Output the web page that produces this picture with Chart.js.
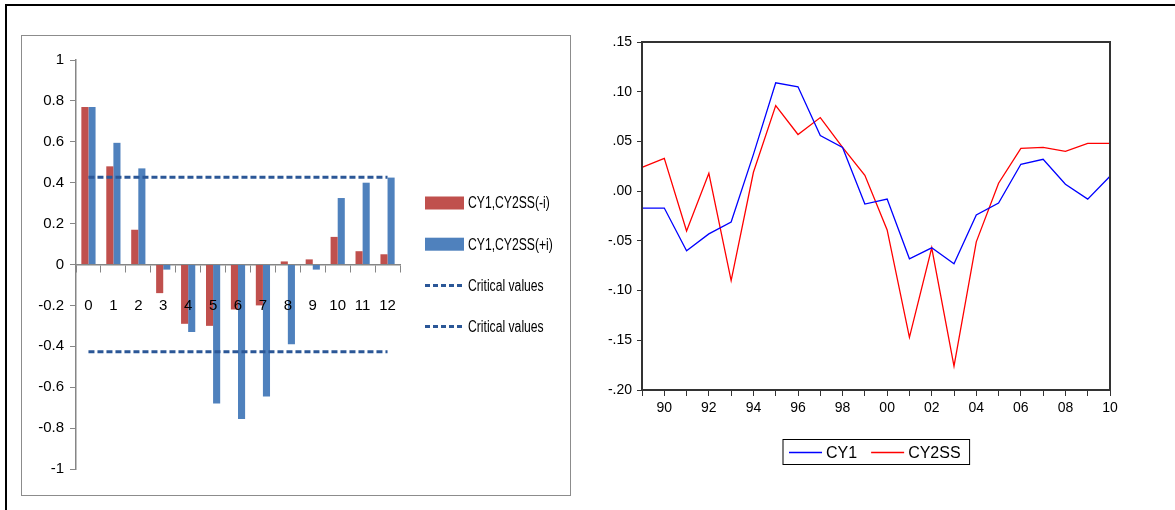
<!DOCTYPE html>
<html>
<head>
<meta charset="utf-8">
<script src="https://cdn.jsdelivr.net/npm/chart.js@4.4.1/dist/chart.umd.min.js"></script>
<style>
  html, body { margin: 0; padding: 0; background: #fff; }
  body { position: relative; width: 1175px; height: 510px; overflow: hidden; }
  .frame { position: absolute; left: 5px; top: 4px; width: 1300px; height: 700px;
           border-left: 2px solid #000; border-top: 2px solid #000; }
  .excel-box { position: absolute; left: 21px; top: 35px; width: 548px; height: 459px;
               border: 1px solid #8c8c8c; background: #fff; }
  .excel-box canvas { position: absolute; left: 0; top: 0; }
  #lineChart { position: absolute; left: 580px; top: 15px; }
</style>
</head>
<body>
<div class="frame"></div>
<div class="excel-box"><canvas id="ccfChart" width="548" height="459"></canvas></div>
<canvas id="lineChart" width="590" height="465"></canvas>

<script>
// cross-correlogram (left)
const lags = ["0", "1", "2", "3", "4", "5", "6", "7", "8", "9", "10", "11", "12"];
const corrMinus = [0.77, 0.48, 0.17, -0.14, -0.29, -0.30, -0.22, -0.20, 0.015, 0.025, 0.135, 0.065, 0.05];
const corrPlus = [0.77, 0.595, 0.47, -0.025, -0.33, -0.68, -0.755, -0.645, -0.39, -0.025, 0.325, 0.40, 0.425];
const criticalUpper = [0.427, 0.427, 0.427, 0.427, 0.427, 0.427, 0.427, 0.427, 0.427, 0.427, 0.427, 0.427, 0.427];
const criticalLower = [-0.427, -0.427, -0.427, -0.427, -0.427, -0.427, -0.427, -0.427, -0.427, -0.427, -0.427, -0.427, -0.427];
const ccfTicks = [-1, -0.8, -0.6, -0.4, -0.2, 0, 0.2, 0.4, 0.6, 0.8, 1];
const ccfTickLabels = ["-1", "-0.8", "-0.6", "-0.4", "-0.2", "0", "0.2", "0.4", "0.6", "0.8", "1"];

// cycles (right)
const years = [1989, 1990, 1991, 1992, 1993, 1994, 1995, 1996, 1997, 1998, 1999,
               2000, 2001, 2002, 2003, 2004, 2005, 2006, 2007, 2008, 2009, 2010];
const cy1 = [-0.017, -0.017, -0.060, -0.043, -0.031, 0.037, 0.109, 0.105, 0.056, 0.044, -0.013,
             -0.008, -0.068, -0.057, -0.073, -0.024, -0.012, 0.027, 0.032, 0.007, -0.008, 0.015];
const cy2ss = [0.024, 0.033, -0.040, 0.018, -0.090, 0.019, 0.086, 0.057, 0.074, 0.044, 0.016,
               -0.039, -0.147, -0.057, -0.176, -0.051, 0.008, 0.043, 0.044, 0.040, 0.048, 0.048];
const cycleTicks = [-0.20, -0.15, -0.10, -0.05, 0, 0.05, 0.10, 0.15];
const cycleTickLabels = ["-.20", "-.15", "-.10", "-.05", ".00", ".05", ".10", ".15"];

const sans = "'Liberation Sans', Arial, sans-serif";
const axisGray = "#868686";
const critColor = "#2B5797";

// excel-ish legend on the right side of the left chart
// (text squeezed a bit, the original uses a narrow font)
const excelLegend = {
  id: "excelLegend",
  afterDraw(chart) {
    const ctx = chart.ctx;
    const x0 = chart.chartArea.right + 25;
    ctx.save();
    ctx.font = "16px " + sans;
    ctx.textBaseline = "middle";
    chart.data.datasets.forEach((ds, i) => {
      const y = 167 + i * 41.2;
      if (ds.type === "bar") {
        ctx.fillStyle = ds.backgroundColor;
        ctx.fillRect(x0, y - 6.5, 39, 13);
      } else {
        ctx.strokeStyle = ds.borderColor;
        ctx.lineWidth = ds.borderWidth;
        ctx.setLineDash([5, 3]);
        ctx.beginPath();
        ctx.moveTo(x0, y);
        ctx.lineTo(x0 + 39, y);
        ctx.stroke();
        ctx.setLineDash([]);
      }
      ctx.save();
      ctx.translate(x0 + 43, y + 1);
      ctx.scale(0.76, 1);
      ctx.fillStyle = "#000";
      ctx.fillText(ds.label, 0, 0);
      ctx.restore();
    });
    ctx.restore();
  }
};

new Chart(document.getElementById("ccfChart"), {
  data: {
    labels: lags,
    datasets: [
      { type: "bar", label: "CY1,CY2SS(-i)", data: corrMinus, backgroundColor: "#C0504D",
        categoryPercentage: 0.57, barPercentage: 1, order: 2 },
      { type: "bar", label: "CY1,CY2SS(+i)", data: corrPlus, backgroundColor: "#4F81BD",
        categoryPercentage: 0.57, barPercentage: 1, order: 2 },
      { type: "line", label: "Critical values", data: criticalUpper, borderColor: critColor,
        borderWidth: 3, borderDash: [6, 3], pointRadius: 0, order: 1 },
      { type: "line", label: "Critical values", data: criticalLower, borderColor: critColor,
        borderWidth: 3, borderDash: [6, 3], pointRadius: 0, order: 1 }
    ]
  },
  options: {
    responsive: false,
    animation: false,
    devicePixelRatio: 1,
    layout: { padding: { top: 24, bottom: 26, left: 0, right: 170 } },
    plugins: { legend: { display: false }, tooltip: { enabled: false } },
    scales: {
      x: {
        position: { y: 0 },
        offset: true,
        grid: { drawOnChartArea: false, tickLength: 7, color: axisGray, offset: true },
        border: { color: axisGray, width: 1.5 },
        // z above 0 so the labels sit on top of the bars like in excel
        ticks: { z: 1, color: "#000", font: { family: sans, size: 15 }, padding: 25,
                 maxRotation: 0, autoSkip: false }
      },
      y: {
        min: -1,
        max: 1,
        afterFit: (s) => { s.width = 54; },
        afterBuildTicks: (s) => { s.ticks = ccfTicks.map(v => ({ value: v })); },
        grid: { drawOnChartArea: false, tickLength: 6, color: axisGray },
        border: { color: axisGray, width: 1.5 },
        ticks: { color: "#000", font: { family: sans, size: 15 }, padding: 6,
                 callback: (v, i) => ccfTickLabels[i] }
      }
    }
  },
  plugins: [excelLegend]
});

// closed box round the plot, eviews style
const plotFrame = {
  id: "plotFrame",
  afterDatasetsDraw(chart) {
    const { ctx, chartArea: a } = chart;
    ctx.save();
    ctx.strokeStyle = "#333";
    ctx.lineWidth = 2;
    ctx.strokeRect(a.left, a.top, a.right - a.left, a.bottom - a.top);
    ctx.restore();
  }
};

const boxLegend = {
  id: "boxLegend",
  afterDraw(chart) {
    const ctx = chart.ctx;
    const left = 203, top = 424.5, h = 25;
    const y = top + h / 2 + 0.5;
    ctx.save();
    ctx.font = "16px " + sans;
    ctx.textBaseline = "middle";
    let x = left + 6;
    chart.data.datasets.forEach((ds) => {
      ctx.strokeStyle = ds.borderColor;
      ctx.lineWidth = 1.3;
      ctx.beginPath();
      ctx.moveTo(x, y);
      ctx.lineTo(x + 33, y);
      ctx.stroke();
      x += 37;
      ctx.fillStyle = "#000";
      ctx.fillText(ds.label, x, y + 1);
      x += ctx.measureText(ds.label).width + 14;
    });
    ctx.strokeStyle = "#000";
    ctx.lineWidth = 1;
    ctx.strokeRect(left, top, x - 14 + 9 - left, h);
    ctx.restore();
  }
};

new Chart(document.getElementById("lineChart"), {
  type: "line",
  data: {
    labels: years,
    datasets: [
      { label: "CY1", data: cy1, borderColor: "#0000FF", borderWidth: 1.3, pointRadius: 0 },
      { label: "CY2SS", data: cy2ss, borderColor: "#FF0000", borderWidth: 1.3, pointRadius: 0 }
    ]
  },
  options: {
    responsive: false,
    animation: false,
    devicePixelRatio: 1,
    layout: { padding: { top: 27, bottom: 62, left: 0, right: 60 } },
    plugins: { legend: { display: false }, tooltip: { enabled: false } },
    scales: {
      x: {
        offset: false,
        afterFit: (s) => { s.height = 28; },
        grid: { drawOnChartArea: false, tickLength: 6, color: "#333" },
        border: { color: "#333", width: 2 },
        ticks: { color: "#000", font: { family: sans, size: 14 }, padding: 4,
                 maxRotation: 0, autoSkip: false,
                 callback: (v, i) => years[i] % 2 === 0 ? String(years[i]).slice(2) : "" }
      },
      y: {
        min: -0.20,
        max: 0.15,
        afterFit: (s) => { s.width = 62; },
        afterBuildTicks: (s) => { s.ticks = cycleTicks.map(v => ({ value: v })); },
        grid: { drawOnChartArea: false, tickLength: 5, color: "#333" },
        border: { color: "#333", width: 2 },
        ticks: { color: "#000", font: { family: sans, size: 14 }, padding: 5,
                 callback: (v, i) => cycleTickLabels[i] }
      }
    }
  },
  plugins: [plotFrame, boxLegend]
});
</script>
</body>
</html>
